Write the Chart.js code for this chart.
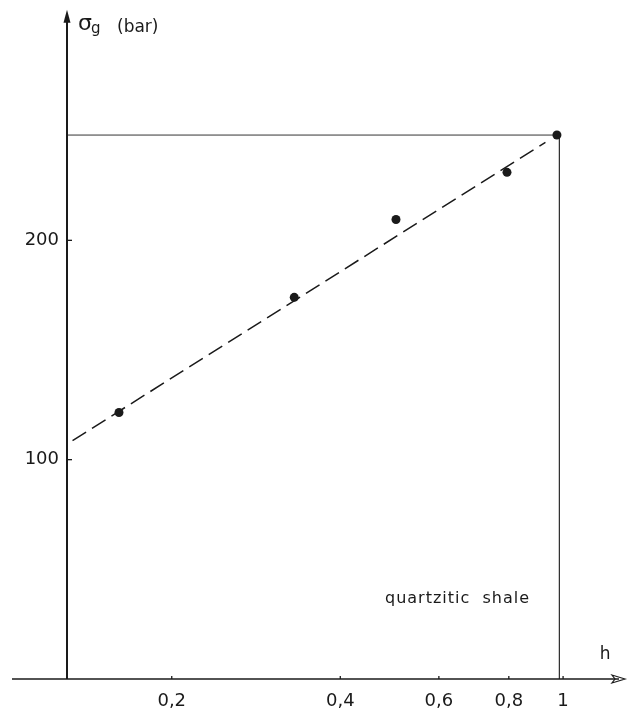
<!DOCTYPE html>
<html>
<head>
<meta charset="utf-8">
<script src="https://cdn.jsdelivr.net/npm/chart.js@4.4.1/dist/chart.umd.min.js"></script>
<style>
  html, body { margin: 0; padding: 0; background: #fff; }
  #wrap { width: 635px; height: 709px; }
</style>
</head>
<body>
<div id="wrap"><canvas id="chart" width="635" height="709"></canvas></div>
<script>
// measured points (h, sigma_g in bar)
const hValues = [0.161, 0.331, 0.503, 0.794, 0.975];
const sigmaValues = [121.5, 174, 209.5, 231, 248];

// dashed fit line end points
const fitH = [0.133, 0.93];
const fitSigma = [108.7, 244.7];

// thin frame line: horizontal at sigma max, then down at h = 1
const frameH = [0.13, 0.985, 0.985];
const frameSigma = [248, 248, 0];

// axis ticks
const xTicks = [0.2, 0.4, 0.6, 0.8, 1];
const xTickLabels = ['0,2', '0,4', '0,6', '0,8', '1'];
const yTicks = [100, 200];
const yTickLabels = ['100', '200'];

const toXY = (xs, ys) => xs.map((x, i) => ({ x: x, y: ys[i] }));

const FONT = '"DejaVu Sans", sans-serif';
const INK = '#1a1a1a';

// draws the arrowed axes, small ticks and the free texts
const axesPlugin = {
  id: 'axes',
  afterDraw(chart) {
    const ctx = chart.ctx;
    const xs = chart.scales.x;
    const ys = chart.scales.y;
    const x0 = xs.getPixelForValue(xs.min);
    const y0 = ys.getPixelForValue(0);
    const yTop = chart.chartArea.top;
    const tip = yTop - 9; // the axis runs a little above the plot box
    ctx.save();
    ctx.strokeStyle = INK;
    ctx.fillStyle = INK;

    // y axis
    ctx.lineWidth = 2;
    ctx.beginPath();
    ctx.moveTo(x0, y0);
    ctx.lineTo(x0, tip + 8);
    ctx.stroke();
    ctx.beginPath();
    ctx.moveTo(x0, tip);
    ctx.lineTo(x0 - 3.5, tip + 13);
    ctx.lineTo(x0 + 3.5, tip + 13);
    ctx.closePath();
    ctx.fill();

    // x axis
    const xEnd = chart.chartArea.right;
    ctx.lineWidth = 1.5;
    ctx.beginPath();
    ctx.moveTo(12, y0);
    ctx.lineTo(xEnd - 6, y0);
    ctx.stroke();
    ctx.lineWidth = 1.2;
    ctx.beginPath();
    ctx.moveTo(xEnd, y0);
    ctx.lineTo(xEnd - 13, y0 - 4);
    ctx.lineTo(xEnd - 10, y0);
    ctx.lineTo(xEnd - 13, y0 + 4);
    ctx.closePath();
    ctx.stroke();

    // tick marks
    ctx.lineWidth = 1.3;
    yTicks.forEach(v => {
      const p = ys.getPixelForValue(v);
      ctx.beginPath();
      ctx.moveTo(x0, p);
      ctx.lineTo(x0 + 5, p);
      ctx.stroke();
    });
    xTicks.forEach(v => {
      const p = xs.getPixelForValue(v);
      ctx.beginPath();
      ctx.moveTo(p, y0);
      ctx.lineTo(p, y0 - 3);
      ctx.stroke();
    });

    // axis titles
    ctx.textBaseline = 'alphabetic';
    ctx.textAlign = 'left';
    ctx.font = '22px ' + FONT;
    ctx.fillText('σ', x0 + 11, tip + 20);
    ctx.font = '15px ' + FONT;
    ctx.fillText('g', x0 + 24, tip + 23);
    ctx.font = '17px ' + FONT;
    ctx.fillText('(bar)', x0 + 50, tip + 22);

    ctx.font = '17px ' + FONT;
    ctx.textAlign = 'center';
    ctx.fillText('h', xs.getPixelForValue(1) + 42, y0 - 20);

    // label
    ctx.font = '16px ' + FONT;
    ctx.textAlign = 'left';
    ctx.letterSpacing = '1px';
    ctx.fillText('quartzitic  shale', 385, 603);
    ctx.restore();
  }
};

new Chart(document.getElementById('chart'), {
  type: 'scatter',
  data: {
    datasets: [
      {
        data: toXY(hValues, sigmaValues),
        showLine: false,
        pointRadius: 4.5,
        pointBackgroundColor: INK,
        pointBorderColor: INK,
        pointBorderWidth: 0,
        order: 1
      },
      {
        data: toXY(fitH, fitSigma),
        showLine: true,
        borderColor: INK,
        borderWidth: 1.5,
        borderDash: [16, 7],
        pointRadius: 0,
        order: 2
      },
      {
        data: toXY(frameH, frameSigma),
        showLine: true,
        borderColor: '#333',
        borderWidth: 1,
        pointRadius: 0,
        order: 3
      }
    ]
  },
  options: {
    responsive: false,
    animation: false,
    layout: { padding: { top: 0, right: 10, left: 0, bottom: 0 } },
    plugins: {
      legend: { display: false },
      tooltip: { enabled: false }
    },
    scales: {
      x: {
        type: 'logarithmic',
        min: 0.13,
        max: 1.29,
        border: { display: false },
        grid: { display: false, drawTicks: false },
        afterBuildTicks: scale => {
          scale.ticks = xTicks.map(v => ({ value: v }));
        },
        afterFit: scale => { scale.height = 30; },
        ticks: {
          autoSkip: false,
          maxRotation: 0,
          padding: 12,
          color: INK,
          font: { size: 18, family: FONT },
          callback: (v) => xTickLabels[xTicks.indexOf(v)]
        }
      },
      y: {
        min: 0,
        max: 301,
        border: { display: false },
        grid: { display: false, drawTicks: false },
        afterBuildTicks: scale => {
          scale.ticks = yTicks.map(v => ({ value: v }));
        },
        afterFit: scale => { scale.width = 67; },
        ticks: {
          padding: 8,
          color: INK,
          font: { size: 18, family: FONT },
          callback: (v) => yTickLabels[yTicks.indexOf(v)]
        }
      }
    }
  },
  plugins: [axesPlugin]
});
</script>
</body>
</html>
